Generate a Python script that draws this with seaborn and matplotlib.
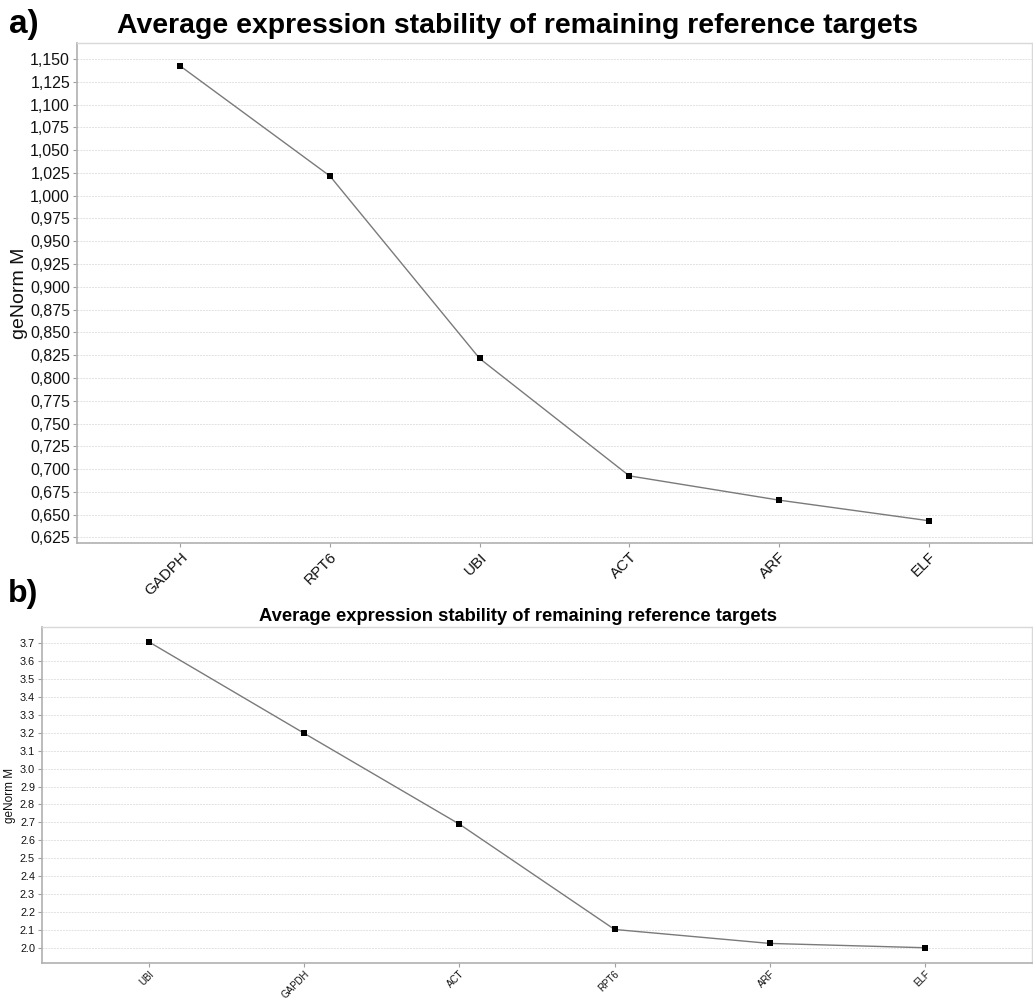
import matplotlib
matplotlib.use("Agg")
import matplotlib.pyplot as plt
import matplotlib.ticker as mticker
import numpy as np
import pandas as pd
import seaborn as sns

# Panel a: geNorm stability ranking
genes_a = ["GADPH", "RPT6", "UBI", "ACT", "ARF", "ELF"]
m_a = [1.1423, 1.0216, 0.8214, 0.6926, 0.6660, 0.6434]
ticks_a = [0.625 + 0.025 * i for i in range(22)]

# Panel b: geNorm stability ranking
genes_b = ["UBI", "GAPDH", "ACT", "RPT6", "ARF", "ELF"]
m_b = [3.707, 3.197, 2.690, 2.102, 2.024, 2.000]
ticks_b = [round(2.0 + 0.1 * i, 1) for i in range(18)]

TITLE = "Average expression stability of remaining reference targets"

sns.set_theme(style="white")
plt.rcParams["font.family"] = ["Liberation Sans", "DejaVu Sans"]

fig = plt.figure(figsize=(10.33, 9.99), dpi=100)
ax_a = fig.add_axes([0.0745, 0.4565, 0.9245, 0.5005])
ax_b = fig.add_axes([0.0407, 0.036, 0.9583, 0.3364])


def draw_panel(ax, genes, vals, ticks, ylim, fmt, ytick_fs, xtick_fs, ylab_fs,
               msize, xpad, ylab_x):
    df = pd.DataFrame({"gene": genes, "M": vals})
    sns.lineplot(data=df, x="gene", y="M", sort=False, color="#7a7a7a",
                 linewidth=1.0, ax=ax)
    sns.scatterplot(data=df, x="gene", y="M", marker="s", color="black",
                    s=msize, edgecolor="black", linewidth=0, ax=ax, zorder=5)
    ax.set_xlim(-0.69, len(genes) - 1 + 0.69)
    ax.set_ylim(*ylim)
    ax.yaxis.set_major_locator(mticker.FixedLocator(ticks))
    ax.yaxis.set_major_formatter(mticker.FuncFormatter(fmt))
    ax.grid(axis="y", color="#e2e2e2", linestyle=(0, (2, 1)), linewidth=0.7)
    ax.set_axisbelow(True)
    for side in ["top", "right"]:
        ax.spines[side].set_color("#d8d8d8")
        ax.spines[side].set_linewidth(1.0)
    for side in ["left", "bottom"]:
        ax.spines[side].set_color("#b0b0b0")
        ax.spines[side].set_linewidth(1.2)
    ax.tick_params(axis="both", which="major", length=3, width=0.8,
                   color="#a0a0a0", direction="out", pad=2)
    ax.tick_params(axis="y", labelsize=ytick_fs, labelcolor="#111111", left=True)
    ax.tick_params(axis="x", labelsize=xtick_fs, labelcolor="#111111",
                   bottom=True, pad=xpad)
    plt.setp(ax.get_xticklabels(), rotation=45, ha="right", rotation_mode="anchor")
    ax.set_xlabel("")
    ax.set_ylabel("geNorm M", fontsize=ylab_fs, color="#111111",
                  va="center", ha="center")
    ax.yaxis.set_label_coords(ylab_x, 0.5)


draw_panel(ax_a, genes_a, m_a, ticks_a, (0.619, 1.1676),
           lambda v, p: f"{v:.3f}".replace(".", ","), 11.5, 11, 14, 18, 2, -0.0597)
draw_panel(ax_b, genes_b, m_b, ticks_b, (1.9145, 3.791),
           lambda v, p: f"{v:.1f}", 7.8, 7.0, 8.5, 16, 1, -0.0323)

fig.text(0.501, 0.967, TITLE, ha="center", va="baseline",
         fontsize=20.4, fontweight="bold", color="black")
fig.text(0.501, 0.378, TITLE, ha="center", va="baseline",
         fontsize=13.2, fontweight="bold", color="black")
fig.text(0.009, 0.967, "a)", ha="left", va="baseline",
         fontsize=24, fontweight="bold", color="black")
fig.text(0.008, 0.397, "b)", ha="left", va="baseline",
         fontsize=23, fontweight="bold", color="black")

fig.savefig("out.png", dpi=100, facecolor="white")
